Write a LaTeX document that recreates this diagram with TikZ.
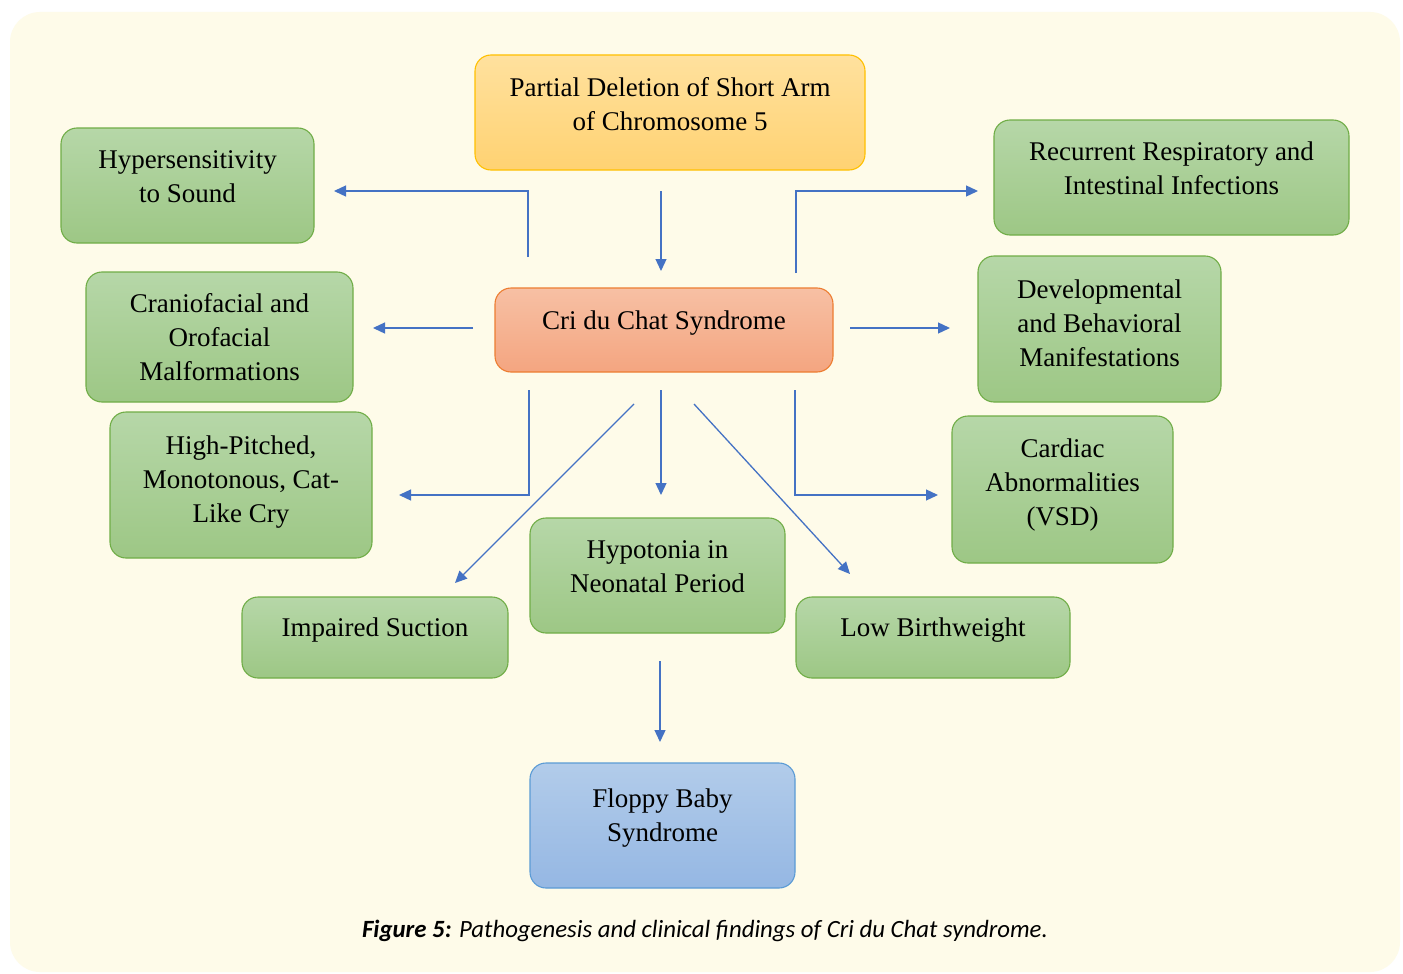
\documentclass[tikz,border=0pt]{standalone}
\usepackage{fontspec}
\setmainfont{Liberation Serif}
\newfontfamily\capfont{Carlito}
\usetikzlibrary{arrows.meta}

\definecolor{cream}{HTML}{FEFBE9}
\definecolor{gtop}{HTML}{B6D7A8}
\definecolor{gbot}{HTML}{9DC785}
\definecolor{gline}{HTML}{70AD47}
\definecolor{otop}{HTML}{F7C0A4}
\definecolor{obot}{HTML}{F4A580}
\definecolor{oline}{HTML}{ED7D31}
\definecolor{ytop}{HTML}{FFE19E}
\definecolor{ybot}{HTML}{FFD272}
\definecolor{yline}{HTML}{FFC000}
\definecolor{btop}{HTML}{B2CCEA}
\definecolor{bbot}{HTML}{95B7E3}
\definecolor{bline}{HTML}{5B9BD5}
\definecolor{ablue}{HTML}{4472C4}

% box contents: width, height, extra space below the text, text
\newcommand\cellbox[4]{\parbox[c][#2pt][c]{#1pt}{\centering #4\par\vspace*{#3pt}}}

\tikzset{
  box/.style={rounded corners=16pt, line width=1.1pt, inner sep=0pt,
    font=\fontsize{27}{34}\selectfont},
  greenbox/.style={box, draw=gline, top color=gtop, bottom color=gbot},
  orangebox/.style={box, draw=oline, top color=otop, bottom color=obot},
  yellowbox/.style={box, draw=yline, top color=ytop, bottom color=ybot},
  bluebox/.style={box, draw=bline, top color=btop, bottom color=bbot},
  arr/.style={draw=ablue, line width=1.3pt, -{Triangle[length=12pt,width=11pt]}},
}

\begin{document}
\begin{tikzpicture}[x=1pt,y=-1pt]
\useasboundingbox (0,0) rectangle (1403,974);
\fill[white] (0,0) rectangle (1403,974);
\fill[cream, rounded corners=30pt] (10,12) rectangle (1400,972);

% boxes
\node[yellowbox] (partial) at (670,112.5) {\cellbox{390}{115}{17}{Partial Deletion of Short Arm\\of Chromosome 5}};
\node[orangebox] (cri) at (664,330) {\cellbox{338}{84}{14}{Cri du Chat Syndrome}};
\node[greenbox] (hyper) at (187.5,185.5) {\cellbox{253}{115}{17}{Hypersensitivity\\to Sound}};
\node[greenbox] (recur) at (1171.5,177.5) {\cellbox{355}{115}{18}{Recurrent Respiratory and\\Intestinal Infections}};
\node[greenbox] (cranio) at (219.5,337) {\cellbox{267}{130}{0}{Craniofacial and\\Orofacial\\Malformations}};
\node[greenbox] (devel) at (1099.5,329) {\cellbox{243}{146}{12}{Developmental\\and Behavioral\\Manifestations}};
\node[greenbox] (cry) at (241,485) {\cellbox{262}{146}{6}{High-Pitched,\\Monotonous, Cat-\\Like Cry}};
\node[greenbox] (cardiac) at (1062.5,489.5) {\cellbox{221}{147}{8}{Cardiac\\Abnormalities\\(VSD)}};
\node[greenbox] (suction) at (375,637.5) {\cellbox{266}{81}{15}{Impaired Suction}};
\node[greenbox] (hypoton) at (657.5,575.5) {\cellbox{255}{115}{18}{Hypotonia in\\Neonatal Period}};
\node[greenbox] (lowbw) at (933,637.5) {\cellbox{274}{81}{15}{Low Birthweight}};
\node[bluebox] (floppy) at (662.5,825.5) {\cellbox{265}{125}{14}{Floppy Baby\\Syndrome}};

% free ends of the connectors
\coordinate (p0) at (661,191);  \coordinate (p1) at (661,271);
\coordinate (h0) at (528,257);  \coordinate (h1) at (334,191);
\coordinate (r0) at (796,273);  \coordinate (r1) at (978,191);
\coordinate (c0) at (473,328);  \coordinate (c1) at (373,328);
\coordinate (d0) at (850,328);  \coordinate (d1) at (950,328);
\coordinate (y0) at (529,390);  \coordinate (y1) at (399,495);
\coordinate (a0) at (795,390);  \coordinate (a1) at (938,495);
\coordinate (s0) at (634,404);  \coordinate (s1) at (455,583);
\coordinate (n0) at (661,390);  \coordinate (n1) at (661,495);
\coordinate (l0) at (694,404);  \coordinate (l1) at (850,574);
\coordinate (f0) at (660,661);  \coordinate (f1) at (660,742);

% connectors
\draw[arr] (p0) -- (p1);
\draw[arr] (h0) |- (h1);
\draw[arr] (r0) |- (r1);
\draw[arr] (c0) -- (c1);
\draw[arr] (d0) -- (d1);
\draw[arr] (y0) |- (y1);
\draw[arr] (a0) |- (a1);
\draw[arr] (s0) -- (s1);
\draw[arr] (n0) -- (n1);
\draw[arr] (l0) -- (l1);
\draw[arr] (f0) -- (f1);

% caption
\node (caption) at (705,931) {\capfont\fontsize{24.8}{28}\selectfont\textbf{\textit{Figure 5:}} \textit{Pathogenesis and clinical findings of Cri du Chat syndrome.}};
\end{tikzpicture}
\end{document}
